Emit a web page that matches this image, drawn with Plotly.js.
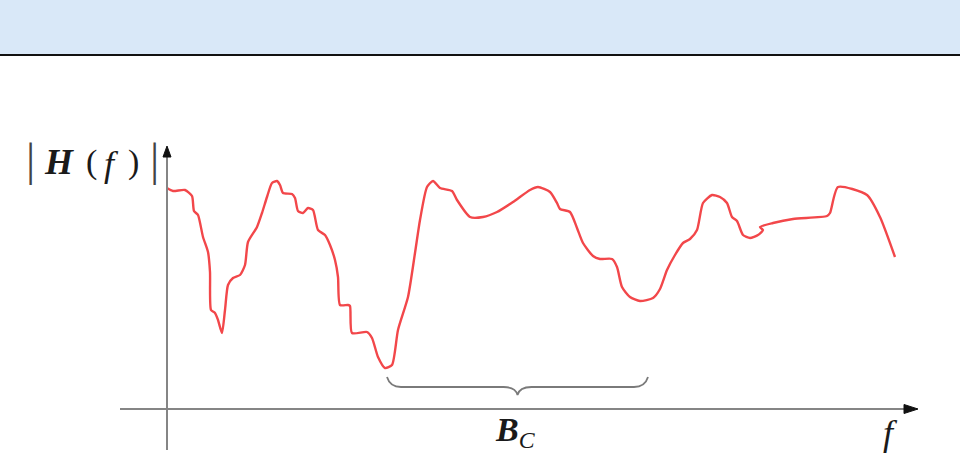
<!DOCTYPE html>
<html>
<head>
<meta charset="utf-8">
<script src="https://cdn.plot.ly/plotly-3.0.1.min.js"></script>
<style>html,body{margin:0;padding:0;background:#fff;}#chart{width:960px;height:455px;}</style>
</head>
<body>
<div id="chart"></div>
<script>
// Frequency (f) positions and magnitude |H(f)| values, origin at the axes' crossing
const freq = [0,6,18,25,27,31,36,41,43,44,48,51,55,58,61,66,73,78,81,90,95,100,105,110,113,116,125,128,131,136,141,146,151,158,163,168,171,173,181,183,185,200,205,211,218,225,231,241,248,253,260,266,273,285,290,303,316,330,346,363,371,383,390,393,403,410,416,426,433,445,450,455,463,473,486,493,500,508,516,523,530,536,545,553,560,565,570,576,583,591,596,593,606,626,660,663,671,700,713,728];
const magnitude = [221,218,219,213,198,194,172,157,137,99,96,89,76,99,124,131,134,144,167,182,196,212,226,228,224,216,215,211,198,196,201,199,179,174,164,149,132,104,104,103,76,77,71,52,41,44,79,112,156,189,222,228,221,218,209,192,192,197,207,219,222,217,206,200,197,181,166,153,150,150,142,122,112,108,111,120,139,154,166,170,179,206,214,212,206,192,188,174,171,174,179,182,186,190,193,196,222,214,192,152];
// Coherence bandwidth brace span (frequency start / end)
const braceSpan = [220, 481];

const axisColor = "#858585";
const textColor = "#1a1a1a";
const serif = "Liberation Serif, Times New Roman, serif";

const trace = {
  x: freq, y: magnitude, type: "scatter", mode: "lines",
  line: {color: "#f2474a", width: 2.4, shape: "spline", smoothing: 0.6},
  hoverinfo: "skip"
};

const b0 = braceSpan[0], b1 = braceSpan[1], bm = (b0 + b1) / 2;
const bracePath = `M ${b0} 32 Q ${b0+3} 22 ${b0+14} 22 L ${bm-14} 22 Q ${bm-2} 22 ${bm} 14 Q ${bm+2} 22 ${bm+14} 22 L ${b1-14} 22 Q ${b1-3} 22 ${b1} 32`;

const shapes = [
  // banner
  {type: "rect", xref: "paper", yref: "paper", x0: 0, x1: 1, y0: 1 - 54/455, y1: 1, fillcolor: "#d9e8f8", line: {width: 0}, layer: "below"},
  {type: "line", xref: "paper", yref: "paper", x0: 0, x1: 1, y0: 1 - 55/455, y1: 1 - 55/455, line: {color: "#111", width: 2}},
  // axes
  {type: "line", x0: 0, x1: 0, y0: -41, y1: 255, line: {color: axisColor, width: 2}},
  {type: "line", x0: -47, x1: 740, y0: 0, y1: 0, line: {color: axisColor, width: 2}},
  {type: "path", path: "M -4 252 L 4 252 L 0 263 Z", fillcolor: "#111", line: {color: "#111", width: 1}},
  {type: "path", path: "M 737 -4.5 L 737 4.5 L 751 0 Z", fillcolor: "#111", line: {color: "#111", width: 1}},
  // brace
  {type: "path", path: bracePath, line: {color: "#7a7a7a", width: 1.8}}
];

function ann(x, y, text, size, color) {
  return {x: x, y: y, text: text, showarrow: false, xanchor: "center", yanchor: "middle",
    font: {family: serif, size: size, color: color || textColor}};
}

const annotations = [
  // |H (f)|
  ann(-137, 250, "|", 46, "#444"),
  ann(-108, 247, "<b><i>H</i></b>", 36),
  ann(-76, 247, "(", 34),
  ann(-56, 245, "<i>f</i>", 36),
  ann(-34, 247, ")", 34),
  ann(-13, 250, "|", 46, "#444"),
  // f
  ann(723, -24, "<i>f</i>", 36),
  // B_C
  ann(bm - 2, -23, "<b><i>B</i></b><sub><i>C</i></sub>", 34)
];

const layout = {
  width: 960, height: 455,
  margin: {l: 0, r: 0, t: 0, b: 0},
  paper_bgcolor: "#ffffff", plot_bgcolor: "#ffffff",
  showlegend: false,
  xaxis: {range: [-167, 793], visible: false, fixedrange: true},
  yaxis: {range: [-46, 409], visible: false, fixedrange: true},
  shapes: shapes,
  annotations: annotations
};

Plotly.newPlot("chart", [trace], layout, {displayModeBar: false, staticPlot: true});
</script>
</body>
</html>
